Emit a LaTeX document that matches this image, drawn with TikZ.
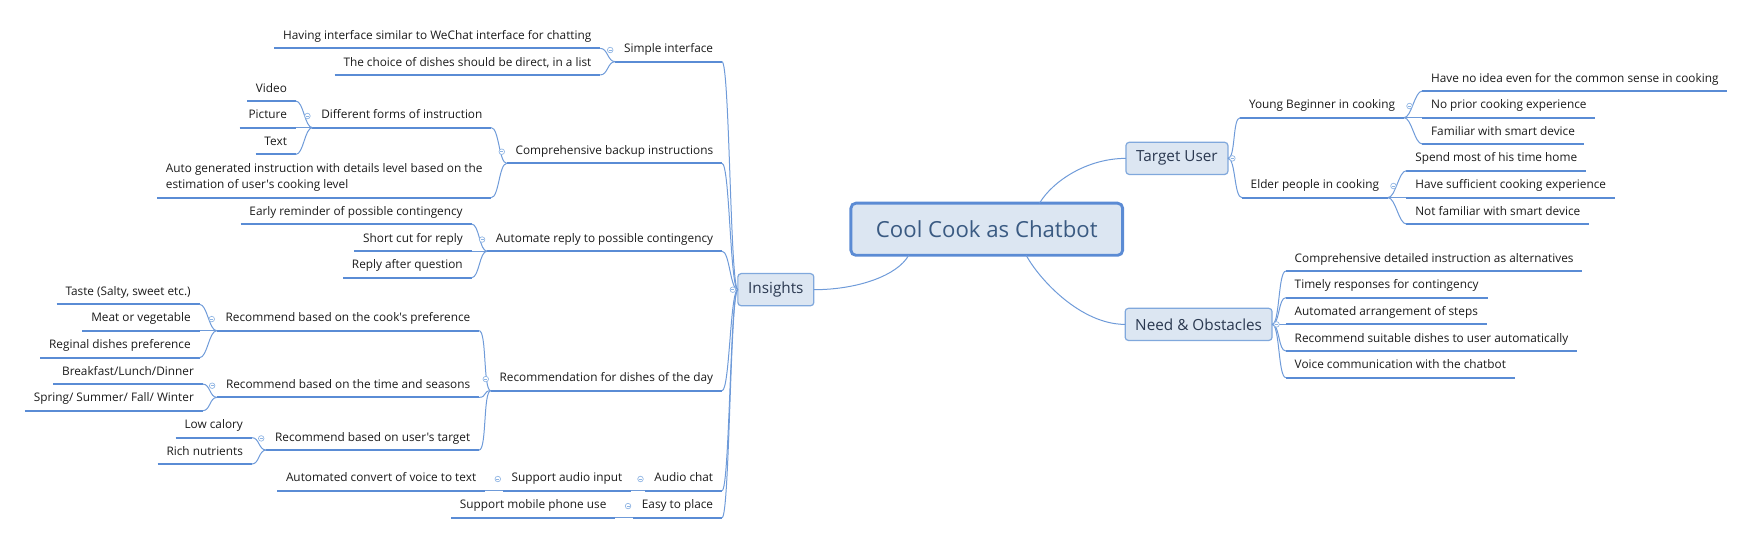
\documentclass[tikz,border=0pt]{standalone}
\usepackage{fontspec}
\setmainfont{Open Sans}[Ligatures=TeXOff]
\usetikzlibrary{calc}
\definecolor{ulc}{HTML}{5A8CD5}
\definecolor{cnc}{HTML}{6F9BD9}
\definecolor{boxfill}{HTML}{DCE6F2}
\definecolor{boxdraw}{HTML}{80A8DC}
\definecolor{cendraw}{HTML}{5B8BD4}
\definecolor{centext}{HTML}{3A5A82}
\definecolor{boxtext}{HTML}{2A3850}
\definecolor{leaftext}{HTML}{1A1A1A}
\definecolor{collc}{HTML}{8EB4E3}
\tikzset{
  leaf/.style={inner xsep=8pt, inner ysep=5.5pt, text height=7.6pt, text depth=2.5pt, outer sep=0pt,
     font=\fontsize{10.65}{14.4}\selectfont, text=leaftext},
  leafL/.style={leaf, anchor=south east},
  leafR/.style={leaf, anchor=south west},
  multi/.style={inner xsep=8pt, inner ysep=5.5pt, outer sep=0pt, align=left, anchor=south east,
     font=\fontsize{10.65}{14.4}\selectfont, text=leaftext},
  topic/.style={draw=boxdraw, fill=boxfill, line width=1.1pt, rounded corners=3pt, inner xsep=4pt,
     minimum height=29pt, outer sep=0pt, font=\fontsize{13.8}{16}\selectfont, text=boxtext},
  cen/.style={draw=cendraw, fill=boxfill, line width=2.6pt, rounded corners=4.5pt, minimum width=245pt,
     minimum height=47pt, font=\fontsize{20}{24}\selectfont, text=centext, outer sep=0pt},
  uline/.style={draw=ulc, line width=1.7pt},
  conn/.style={draw=cnc, line width=0.9pt},
  brL/.style={out=180, in=0, distance=7pt},
  brR/.style={out=0, in=180, distance=7pt},
  coll/.style={circle, draw=collc, fill=white, line width=0.6pt, minimum size=5pt, inner sep=0pt,
     path picture={\draw[collc, line width=0.6pt] ([xshift=-1.4pt]path picture bounding box.center) -- ([xshift=1.4pt]path picture bounding box.center);}},
}
\begin{document}
\begin{tikzpicture}[x=1pt, y=-1pt]
\useasboundingbox (0,0) rectangle (1568,487);
% main nodes
\node[cen] (cen) at (889.75,206.7) {Cool Cook as Chatbot};
\node[topic, anchor=west, minimum width=68.5pt] (ins) at (665.3,261.2) {Insights};
\node[topic, anchor=west, minimum width=92pt] (tu) at (1015.2,142.8) {Target User};
\node[topic, anchor=west, minimum width=132.5pt] (need) at (1014.5,292.5) {Need \& Obstacles};

% Insights branch
\node[leafL] (simple) at (651,55.6) {Simple interface};
\node[leafL] (comp) at (651,147.3) {Comprehensive backup instructions};
\node[leafL] (auto) at (651,226.5) {Automate reply to possible contingency};
\node[leafL] (recday) at (651,352.3) {Recommendation for dishes of the day};
\node[leafL] (audio) at (651,442.4) {Audio chat};
\node[leafL] (easy) at (651,466.8) {Easy to place};

\node[leafL] (having) at ([shift={(-13.5,-12)}]simple.south west) {Having interface similar to WeChat interface for chatting};
\node[leafL] (choice) at ([shift={(-13.5,12)}]simple.south west) {The choice of dishes should be direct, in a list};

\node[leafL] (diff) at ([shift={(-14,-32.2)}]comp.south west) {Different forms of instruction};
\node[multi] (autogen) at ([shift={(-14,30.9)}]comp.south west) {Auto generated instruction with details level based on the\\estimation of user's cooking level};
\node[leafL] (video) at ([shift={(-15,-24)}]diff.south west) {Video};
\node[leafL] (picture) at ([shift={(-15,0)}]diff.south west) {Picture};
\node[leafL] (txt) at ([shift={(-15,24.1)}]diff.south west) {Text};

\node[leafL] (early) at ([shift={(-14,-24.5)}]auto.south west) {Early reminder of possible contingency};
\node[leafL] (short) at ([shift={(-14,0)}]auto.south west) {Short cut for reply};
\node[leafL] (replyq) at ([shift={(-14,23.9)}]auto.south west) {Reply after question};

\node[leafL] (cook) at ([shift={(-10.5,-54.1)}]recday.south west) {Recommend based on the cook's preference};
\node[leafL] (time) at ([shift={(-10.5,6)}]recday.south west) {Recommend based on the time and seasons};
\node[leafL] (target) at ([shift={(-10.5,53.5)}]recday.south west) {Recommend based on user's target};
\node[leafL] (taste) at ([shift={(-15.5,-23.8)}]cook.south west) {Taste (Salty, sweet etc.)};
\node[leafL] (meat) at ([shift={(-15.5,0)}]cook.south west) {Meat or vegetable};
\node[leafL] (reginal) at ([shift={(-15.5,24.3)}]cook.south west) {Reginal dishes preference};
\node[leafL] (breakfast) at ([shift={(-13,-12)}]time.south west) {Breakfast/Lunch/Dinner};
\node[leafL] (spring) at ([shift={(-13,12)}]time.south west) {Spring/ Summer/ Fall/ Winter};
\node[leafL] (low) at ([shift={(-13,-11.2)}]target.south west) {Low calory};
\node[leafL] (rich) at ([shift={(-13,12.6)}]target.south west) {Rich nutrients};

\node[leafL] (saudio) at ([shift={(-13,0)}]audio.south west) {Support audio input};
\node[leafL] (convert) at ([shift={(-16,0)}]saudio.south west) {Automated convert of voice to text};
\node[leafL] (mobile) at ([shift={(-16,0)}]easy.south west) {Support mobile phone use};

% Target user branch
\node[leafR] (young) at ([shift={(11,-36.7)}]tu.east) {Young Beginner in cooking};
\node[leafR] (elder) at ([shift={(12.5,35.4)}]tu.east) {Elder people in cooking};
\node[leafR] (noidea) at ([shift={(16.5,-24)}]young.south east) {Have no idea even for the common sense in cooking};
\node[leafR] (noprior) at ([shift={(16.5,0)}]young.south east) {No prior cooking experience};
\node[leafR] (familiar) at ([shift={(16.5,23.7)}]young.south east) {Familiar with smart device};
\node[leafR] (spend) at ([shift={(16.7,-24.3)}]elder.south east) {Spend most of his time home};
\node[leafR] (suff) at ([shift={(16.7,0)}]elder.south east) {Have sufficient cooking experience};
\node[leafR] (notfam) at ([shift={(16.7,23.8)}]elder.south east) {Not familiar with smart device};

% Need branch
\node[leafR] (n1) at ([shift={(12.4,-48.1)}]need.east) {Comprehensive detailed instruction as alternatives};
\node[leafR] (n2) at ([shift={(12.4,-24.1)}]need.east) {Timely responses for contingency};
\node[leafR] (n3) at ([shift={(12.4,0)}]need.east) {Automated arrangement of steps};
\node[leafR] (n4) at ([shift={(12.4,24)}]need.east) {Recommend suitable dishes to user automatically};
\node[leafR] (n5) at ([shift={(12.4,48)}]need.east) {Voice communication with the chatbot};

% underlines
\foreach \n in {simple,comp,auto,recday,audio,easy,having,choice,diff,autogen,video,picture,txt,
  early,short,replyq,cook,time,target,taste,meat,reginal,breakfast,spring,low,rich,saudio,convert,mobile,
  young,elder,noidea,noprior,familiar,spend,suff,notfam,n1,n2,n3,n4,n5}
  \draw[uline] (\n.south west) -- (\n.south east);

% central connectors
\draw[conn] ($(cen.south west)!0.2125!(cen.south east)$) .. controls +(-10,18) and +(40,0) .. (ins.east);
\draw[conn] ($(cen.north west)!0.694!(cen.north east)$) .. controls +(12,-20) and +(-35,0) .. (tu.west);
\draw[conn] ($(cen.south west)!0.645!(cen.south east)$) .. controls +(12,22) and +(-40,0) .. (need.west);

% branch connectors (left)
\foreach \c in {simple,comp,auto,recday,audio,easy} \draw[conn] (ins.west) to[brL] (\c.south east);
\foreach \c in {having,choice} \draw[conn] (simple.south west) to[brL] (\c.south east);
\foreach \c in {diff,autogen} \draw[conn] (comp.south west) to[brL] (\c.south east);
\foreach \c in {video,picture,txt} \draw[conn] (diff.south west) to[brL] (\c.south east);
\foreach \c in {early,short,replyq} \draw[conn] (auto.south west) to[brL] (\c.south east);
\foreach \c in {cook,time,target} \draw[conn] (recday.south west) to[brL] (\c.south east);
\foreach \c in {taste,meat,reginal} \draw[conn] (cook.south west) to[brL] (\c.south east);
\foreach \c in {breakfast,spring} \draw[conn] (time.south west) to[brL] (\c.south east);
\foreach \c in {low,rich} \draw[conn] (target.south west) to[brL] (\c.south east);
\draw[conn] (audio.south west) to[brL] (saudio.south east);
\draw[conn] (saudio.south west) to[brL] (convert.south east);
\draw[conn] (easy.south west) to[brL] (mobile.south east);
% branch connectors (right)
\foreach \c in {young,elder} \draw[conn] (tu.east) to[brR] (\c.south west);
\foreach \c in {noidea,noprior,familiar} \draw[conn] (young.south east) to[brR] (\c.south west);
\foreach \c in {spend,suff,notfam} \draw[conn] (elder.south east) to[brR] (\c.south west);
\foreach \c in {n1,n2,n3,n4,n5} \draw[conn] (need.east) to[brR] (\c.south west);

% collapse markers
\foreach \n in {simple,comp,diff,auto,recday,cook,time,target,audio,saudio,easy}
  \node[coll] (c-\n) at ([shift={(-4.5,-10.5)}]\n.south west) {};
\foreach \n in {young,elder}
  \node[coll] (c-\n) at ([shift={(5,-10.5)}]\n.south east) {};
\node[coll] (c-ins) at ([xshift=-4.5pt]ins.west) {};
\node[coll] (c-tu) at ([xshift=4pt]tu.east) {};
\node[coll] (c-need) at ([xshift=4pt]need.east) {};
\end{tikzpicture}
\end{document}
